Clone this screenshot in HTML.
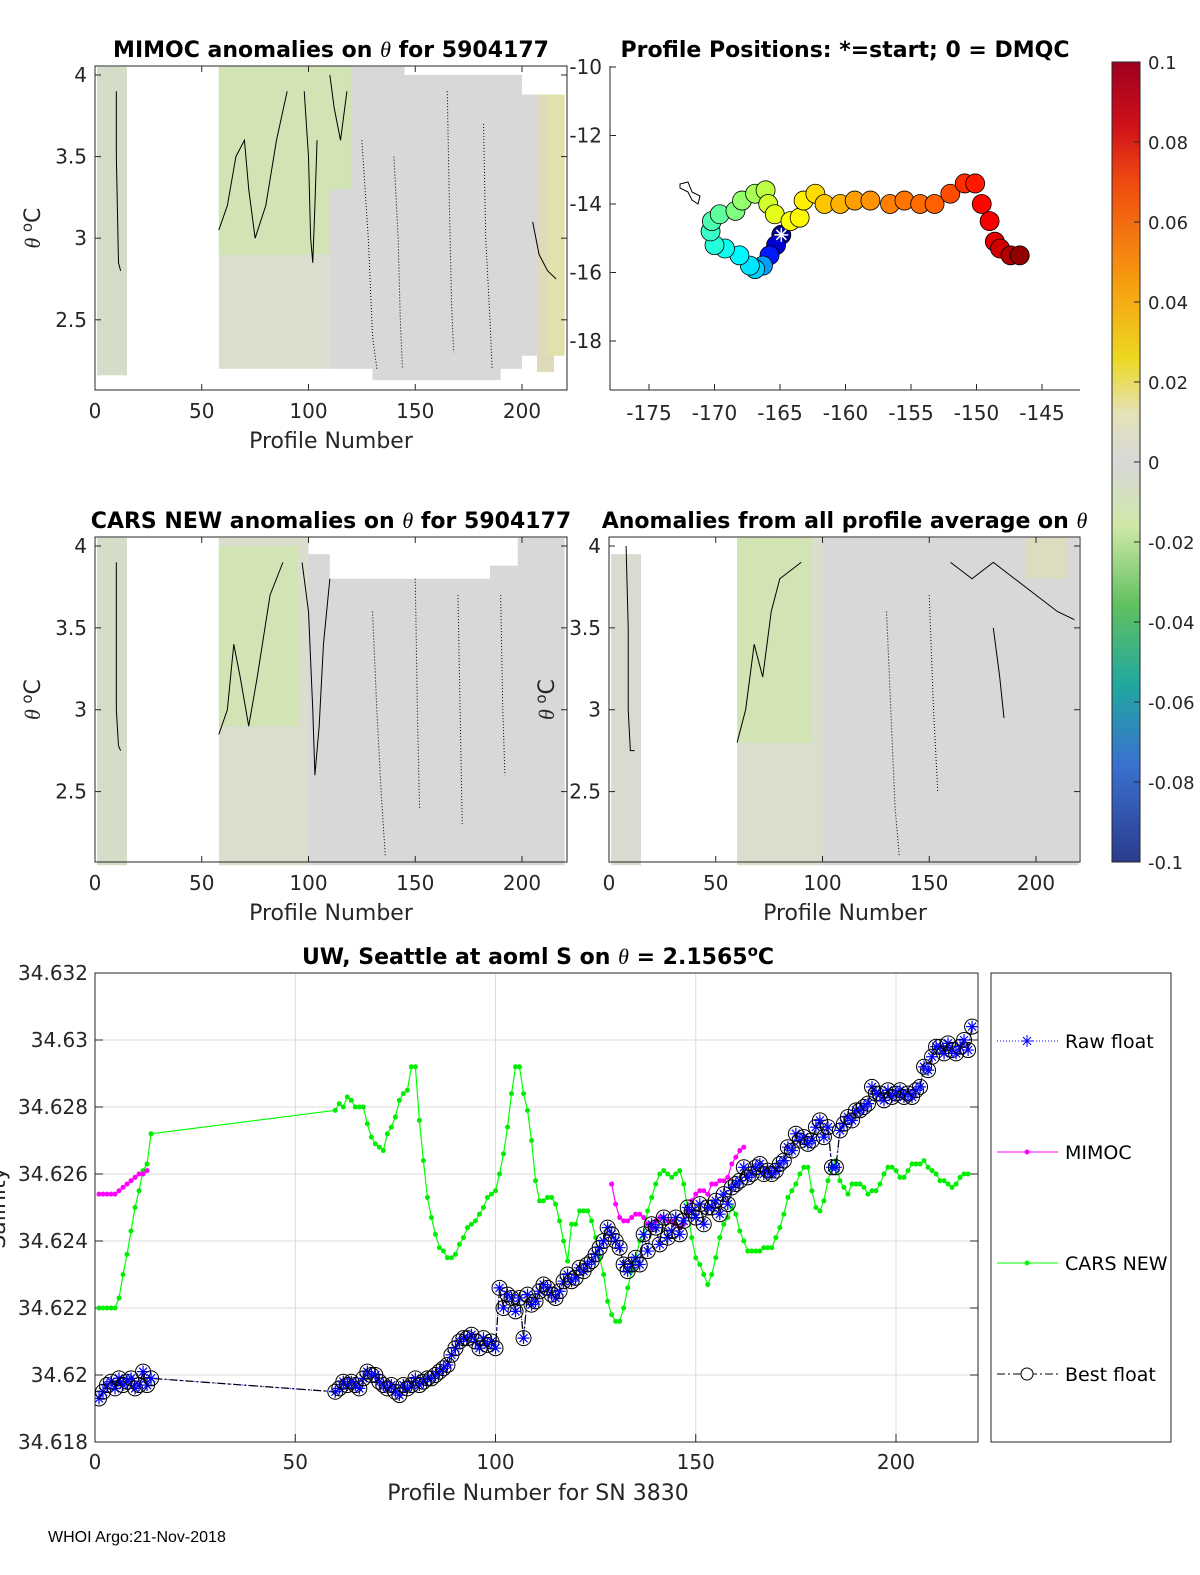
<!DOCTYPE html>
<html><head><meta charset="utf-8">
<style>
html,body{margin:0;padding:0;background:#fff;}
svg{display:block;font-family:"DejaVu Sans","Liberation Sans",sans-serif;}
</style></head>
<body>
<svg id="fig" width="1200" height="1575" viewBox="0 0 1200 1575" xmlns="http://www.w3.org/2000/svg">
<defs>
<linearGradient id="cbar" x1="0" y1="0" x2="0" y2="1">
<stop offset="0" stop-color="#9e0020"/><stop offset="0.08" stop-color="#d0101a"/><stop offset="0.15" stop-color="#f04a10"/>
<stop offset="0.28" stop-color="#f7a010"/><stop offset="0.37" stop-color="#ecd820"/><stop offset="0.44" stop-color="#e4e2b8"/>
<stop offset="0.5" stop-color="#d8d8d8"/><stop offset="0.58" stop-color="#cfe8a8"/><stop offset="0.68" stop-color="#60c060"/>
<stop offset="0.78" stop-color="#20a8a0"/><stop offset="0.88" stop-color="#3a70d0"/><stop offset="1" stop-color="#2a3c8c"/>
</linearGradient>
</defs>
<g id="root"></g>
<text x="48" y="1542" font-size="16" font-family="Liberation Sans, sans-serif">WHOI Argo:21-Nov-2018</text>
</svg>
<script>
// ---------- bottom chart data ----------
const bestProfiles = [1,2,3,4,5,6,7,8,9,10,11,12,13,14,60,61,62,63,64,65,66,67,68,69,70,71,72,73,74,75,76,77,78,79,80,81,82,83,84,85,86,87,88,89,90,91,92,93,94,95,96,97,98,99,100,101,102,103,104,105,106,107,108,109,110,111,112,113,114,115,116,117,118,119,120,121,122,123,124,125,126,127,128,129,130,131,132,133,134,135,136,137,138,139,140,141,142,143,144,145,146,147,148,149,150,151,152,153,154,155,156,157,158,159,160,161,162,163,164,165,166,167,168,169,170,171,172,173,174,175,176,177,178,179,180,181,182,183,184,185,186,187,188,189,190,191,192,193,194,195,196,197,198,199,200,201,202,203,204,205,206,207,208,209,210,211,212,213,214,215,216,217,218,219];
const bestSal = [34.6193,34.6195,34.6197,34.6198,34.6196,34.6199,34.6197,34.6198,34.6199,34.6196,34.6197,34.6201,34.6197,34.6199,
34.6195,34.6196,34.6198,34.6197,34.6198,34.6197,34.6196,34.6199,34.6201,34.6200,34.6200,34.6198,34.6197,34.6196,34.6197,34.6195,34.6194,34.6197,34.6196,34.6197,34.6199,34.6197,34.6198,34.6199,34.6199,34.6200,34.6201,34.6202,34.6203,34.6206,34.6208,34.6210,34.6211,34.6211,34.6212,34.6210,34.6208,34.6211,34.6209,34.6210,34.6208,
34.6226,34.6220,34.6224,34.6223,34.6219,34.6223,34.6211,34.6224,34.6221,34.6222,34.6225,34.6227,34.6226,34.6224,34.6223,34.6225,34.6228,34.6230,34.6228,34.6229,34.6232,34.6231,34.6233,34.6234,34.6236,34.6238,34.6240,34.6244,34.6242,34.6240,34.6238,34.6233,34.6231,34.6233,34.6235,34.6233,34.6242,34.6237,34.6245,34.6244,34.6239,34.6247,34.6241,34.6243,34.6247,34.6242,34.6246,34.6250,34.6249,34.6247,34.6251,34.6245,34.6250,34.6250,34.6252,34.6248,34.6254,34.6251,34.6256,34.6257,34.6258,34.6262,34.6259,34.6260,34.6262,34.6263,34.6260,34.6261,34.6260,34.6261,34.6263,34.6264,34.6268,34.6267,34.6272,34.6270,34.6271,34.6269,34.6270,34.6274,34.6276,34.6271,34.6274,34.6262,34.6262,34.6273,34.6275,34.6277,34.6276,34.6279,34.6279,34.6280,34.6281,34.6286,34.6284,34.6284,34.6282,34.6285,34.6283,34.6284,34.6285,34.6283,34.6284,34.6283,34.6285,34.6286,34.6292,34.6291,34.6295,34.6298,34.6298,34.6296,34.6299,34.6297,34.6296,34.6298,34.6300,34.6297,34.6304];
const mimocProfiles = [1,2,3,4,5,6,7,8,9,10,11,12,13,129,130,131,132,133,134,135,136,137,138,139,140,141,142,143,144,145,146,147,148,149,150,151,152,153,154,155,156,157,158,159,160,161,162];
const mimocSal = [34.6254,34.6254,34.6254,34.6254,34.6254,34.6255,34.6256,34.6257,34.6258,34.6259,34.6260,34.6260,34.6261,
34.6257,34.6251,34.6247,34.6246,34.6246,34.6247,34.6248,34.6248,34.6247,34.6245,34.6244,34.6246,34.6247,34.6247,34.6246,34.6246,34.6245,34.6244,34.6245,34.6249,34.6252,34.6254,34.6255,34.6255,34.6254,34.6257,34.6257,34.6258,34.6258,34.6259,34.6263,34.6265,34.6267,34.6268];
const carsProfiles = [1,2,3,4,5,6,7,8,9,10,11,12,13,14,60,61,62,63,64,65,66,67,68,69,70,71,72,73,74,75,76,77,78,79,80,81,82,83,84,85,86,87,88,89,90,91,92,93,94,95,96,97,98,99,100,101,102,103,104,105,106,107,108,109,110,111,112,113,114,115,116,117,118,119,120,121,122,123,124,125,126,127,128,129,130,131,132,133,134,135,136,137,138,139,140,141,142,143,144,145,146,147,148,149,150,151,152,153,154,155,156,157,158,159,160,161,162,163,164,165,166,167,168,169,170,171,172,173,174,175,176,177,178,179,180,181,182,183,184,185,186,187,188,189,190,191,192,193,194,195,196,197,198,199,200,201,202,203,204,205,206,207,208,209,210,211,212,213,214,215,216,217,218];
const carsSal = [34.6220,34.6220,34.6220,34.6220,34.6220,34.6223,34.6230,34.6236,34.6243,34.6250,34.6255,34.6261,34.6263,34.6272,
34.6279,34.6281,34.6280,34.6283,34.6282,34.6280,34.6280,34.6280,34.6275,34.6271,34.6269,34.6268,34.6267,34.6272,34.6274,34.6277,34.6282,34.6284,34.6285,34.6292,34.6292,34.6276,34.6264,34.6253,34.6247,34.6242,34.6238,34.6237,34.6235,34.6235,34.6236,34.6239,34.6241,34.6244,34.6245,34.6246,34.6248,34.6250,34.6253,34.6254,34.6255,34.6260,
34.6266,34.6274,34.6284,34.6292,34.6292,34.6284,34.6279,34.6270,34.6258,34.6252,34.6252,34.6253,34.6253,34.6251,34.6246,34.6240,34.6234,34.6245,34.6245,34.6249,34.6249,34.6249,34.6246,34.6241,34.6235,34.6230,34.6222,34.6218,34.6216,34.6216,34.6220,34.6226,34.6231,34.6235,34.6240,34.6242,34.6249,34.6253,34.6257,34.6260,34.6261,34.6260,34.6259,34.6260,34.6261,34.6257,34.6249,34.6241,34.6235,34.6233,34.6230,34.6227,34.6230,34.6235,34.6241,34.6245,34.6247,34.6250,34.6248,34.6243,34.6240,34.6237,34.6237,34.6237,34.6237,34.6238,34.6238,34.6238,34.6241,34.6244,34.6248,34.6253,34.6255,34.6257,34.6260,34.6262,34.6262,34.6255,34.6250,34.6249,34.6252,34.6258,34.6262,34.6264,34.6258,34.6256,34.6254,34.6257,34.6257,34.6257,34.6256,34.6254,34.6255,34.6255,34.6257,34.6260,34.6262,34.6262,34.6261,34.6259,34.6259,34.6261,34.6263,34.6263,34.6263,34.6264,34.6262,34.6261,34.6260,34.6258,34.6258,34.6257,34.6256,34.6257,34.6259,34.6260,34.6260];
const yTicks = [34.618,34.62,34.622,34.624,34.626,34.628,34.63,34.632];
const yTickLabels = ["34.618","34.62","34.622","34.624","34.626","34.628","34.63","34.632"];
const xTicks = [0,50,100,150,200];
const legendLabels = ["Raw float","MIMOC","CARS NEW","Best float"];
// ---------- map data ----------
const trackLon = [-164.9,-165.3,-165.8,-166.3,-166.9,-167.3,-168.1,-169.2,-170.0,-170.3,-170.2,-169.6,-168.4,-167.9,-166.9,-166.1,-165.9,-165.4,-164.2,-163.5,-163.2,-162.3,-161.6,-160.4,-159.3,-158.1,-156.6,-155.5,-154.3,-153.2,-152.0,-150.9,-150.1,-149.6,-149.0,-148.6,-148.2,-147.4,-146.7];
const trackLat = [-14.9,-15.2,-15.5,-15.8,-15.9,-15.8,-15.5,-15.3,-15.2,-14.8,-14.5,-14.3,-14.2,-13.9,-13.7,-13.6,-14.0,-14.3,-14.5,-14.4,-13.9,-13.7,-14.0,-14.0,-13.9,-13.9,-14.0,-13.9,-14.0,-14.0,-13.7,-13.4,-13.4,-14.0,-14.5,-15.1,-15.3,-15.5,-15.5];
const trackOrder = [0.02,0.08,0.15,0.28,0.33,0.35,0.37,0.39,0.41,0.43,0.45,0.47,0.5,0.52,0.54,0.56,0.58,0.6,0.62,0.63,0.64,0.66,0.68,0.7,0.72,0.73,0.75,0.76,0.77,0.78,0.8,0.83,0.85,0.87,0.88,0.9,0.92,0.95,0.98];
const lonTicks = [-175,-170,-165,-160,-155,-150,-145];
const latTicks = [-10,-12,-14,-16,-18];
const cbarTicks = [0.1,0.08,0.06,0.04,0.02,0,-0.02,-0.04,-0.06,-0.08,-0.1];
const cbarLabels = ["0.1","0.08","0.06","0.04","0.02","0","-0.02","-0.04","-0.06","-0.08","-0.1"];
const thetaTicks = [2.5,3,3.5,4];
const profTicks = [0,50,100,150,200];

const NS="http://www.w3.org/2000/svg";
const root=document.getElementById('root');
function mk(tag,attrs,parent,text){const e=document.createElementNS(NS,tag);for(const k in attrs)e.setAttribute(k,attrs[k]);if(text!==undefined)e.textContent=text;(parent||root).appendChild(e);return e;}

// ---------- bottom chart ----------
const B={x0:95,x1:978,y0:973,y1:1442};
const bx=p=>B.x0+p*(896-95)/200;
const by=v=>B.y1-(v-34.618)/0.014*(B.y1-B.y0);
const gB=mk('g',{});


xTicks.forEach(t=>{const l=mk('line',{x1:bx(t),x2:bx(t),y1:B.y0,y2:B.y1,stroke:'#dcdcdc','stroke-width':1},gB);});
yTicks.forEach(t=>{const l=mk('line',{x1:B.x0,x2:B.x1,y1:by(t),y2:by(t),stroke:'#dcdcdc','stroke-width':1},gB);});
const frame=mk('rect',{x:B.x0,y:B.y0,width:B.x1-B.x0,height:B.y1-B.y0,fill:'none',stroke:'#262626','stroke-width':1},gB);

yTicks.forEach((t,i)=>{mk('line',{x1:B.x0,x2:B.x0+8,y1:by(t),y2:by(t),stroke:'#262626'},gB);mk('line',{x1:B.x1,x2:B.x1-8,y1:by(t),y2:by(t),stroke:'#262626'},gB);
 const tx=mk('text',{x:B.x0-7,y:by(t)+7,'text-anchor':'end','font-size':20,fill:'#262626'},gB,yTickLabels[i]);});
xTicks.forEach(t=>{mk('line',{x1:bx(t),x2:bx(t),y1:B.y1,y2:B.y1-8,stroke:'#262626'},gB);
 const tx=mk('text',{x:bx(t),y:B.y1+27,'text-anchor':'middle','font-size':20,fill:'#262626'},gB,String(t));});
let t1=mk('text',{x:538,y:1500,'text-anchor':'middle','font-size':22,fill:'#262626'},gB,'Profile Number for SN 3830');
let t2=mk('text',{x:0,y:0,transform:'translate(5,1208) rotate(-90)','text-anchor':'middle','font-size':22,fill:'#262626'},gB,'Salinity');
let t3=mk('text',{x:538,y:964,'text-anchor':'middle','font-size':22,'font-weight':'bold',fill:'#000'},gB,'UW, Seattle at aoml S on ');
mk('tspan',{'font-style':'italic','font-family':'Liberation Serif, serif','font-weight':'normal'},t3,'θ');
mk('tspan',{},t3,' = 2.1565');mk('tspan',{dy:-8,'font-size':15},t3,'o');mk('tspan',{dy:8},t3,'C');

const clipB=mk('clipPath',{id:'clipB'},gB);mk('rect',{x:B.x0,y:B.y0,width:B.x1-B.x0,height:B.y1-B.y0},clipB);
const plotB=mk('g',{'clip-path':'url(#clipB)'},gB);
function series(ps,vs,color,name,dash){
 const pts=ps.map((p,i)=>bx(p)+','+by(vs[i])).join(' ');
 const l=mk('polyline',{points:pts,fill:'none',stroke:color,'stroke-width':1.2,'stroke-dasharray':dash||'none'},plotB);
 
}
series(carsProfiles,carsSal,'#00ff00','cars-new');
carsProfiles.forEach((p,i)=>{const c=mk('circle',{cx:bx(p),cy:by(carsSal[i]),r:2.5,fill:'#00ee00'},plotB);});
series(mimocProfiles.slice(0,13),mimocSal.slice(0,13),'#ff00ff','mimoc-start');
series(mimocProfiles.slice(13),mimocSal.slice(13),'#ff00ff','mimoc');
mimocProfiles.forEach((p,i)=>{const c=mk('circle',{cx:bx(p),cy:by(mimocSal[i]),r:2.5,fill:'#ff00ff'},plotB);});
series(bestProfiles,bestSal,'#0000ff','raw-float','1 2');
series(bestProfiles,bestSal,'#000','best-float','8 3 2 3');
bestProfiles.forEach((p,i)=>{const x=bx(p),y=by(bestSal[i]);
 const g=mk('g',{},plotB);
 mk('circle',{cx:x,cy:y,r:7.5,fill:'none',stroke:'#000','stroke-width':1},g);
 mk('path',{d:`M${x-6},${y}H${x+6}M${x},${y-6}V${y+6}M${x-4},${y-4}L${x+4},${y+4}M${x-4},${y+4}L${x+4},${y-4}`,stroke:'#0000ff','stroke-width':1.2},g);});
// legend
const lg=mk('g',{});
mk('rect',{x:991,y:973,width:180,height:469,fill:'#fff',stroke:'#262626'},lg);
const ly=[1041,1152,1263,1374],lc=['#0000ff','#ff00ff','#00ff00','#000'],ld=['1 2','none','none','8 3 2 3'];
legendLabels.forEach((s,i)=>{const e=mk('g',{},lg);
 mk('line',{x1:997,x2:1058,y1:ly[i],y2:ly[i],stroke:lc[i],'stroke-dasharray':ld[i]},e);
 if(i==0)mk('path',{d:`M1021,${ly[i]}h12M1027,${ly[i]-6}v12M1023,${ly[i]-4}l8,8M1023,${ly[i]+4}l8,-8`,stroke:'#0000ff'},e);
 if(i==1||i==2)mk('circle',{cx:1027,cy:ly[i],r:2.5,fill:lc[i]},e);
 if(i==3)mk('circle',{cx:1027,cy:ly[i],r:6,fill:'#fff',stroke:'#000'},e);
 mk('text',{x:1065,y:ly[i]+7,'font-size':19,fill:'#000'},e,s);});

// ---------- heatmap panels ----------
function panel(name,ax,ay,aw,ah,xs,title,hasYLabel,rects,lines){
 const g=mk('g',{});
 const px=p=>ax+ (p-0)*xs; const py=v=>ay+ah - (v-2.07)/(4.055-2.07)*ah;
 rects.forEach(r=>{const e=mk('rect',{x:px(r[0]),y:py(r[3]),width:px(r[1])-px(r[0]),height:py(r[2])-py(r[3]),fill:r[4]},g);});
 lines.forEach(l=>{const pts=[];for(let i=0;i<l[0].length;i+=2)pts.push(px(l[0][i])+','+py(l[0][i+1]));
  const e=mk('polyline',{points:pts.join(' '),fill:'none',stroke:'#000','stroke-width':1,'stroke-dasharray':l[1]?'1 2':'none'},g);});
 mk('rect',{x:ax,y:ay,width:aw,height:ah,fill:'none',stroke:'#262626'},g);
 thetaTicks.forEach(t=>{mk('line',{x1:ax,x2:ax+6,y1:py(t),y2:py(t),stroke:'#262626'},g);mk('line',{x1:ax+aw,x2:ax+aw-6,y1:py(t),y2:py(t),stroke:'#262626'},g);
  const e=mk('text',{x:ax-8,y:py(t)+7,'text-anchor':'end','font-size':20,fill:'#262626'},g,String(t));});
 profTicks.forEach(t=>{mk('line',{x1:px(t),x2:px(t),y1:ay+ah,y2:ay+ah-6,stroke:'#262626'},g);mk('line',{x1:px(t),x2:px(t),y1:ay,y2:ay+6,stroke:'#262626'},g);
  const e=mk('text',{x:px(t),y:ay+ah+28,'text-anchor':'middle','font-size':20,fill:'#262626'},g,String(t));});
 const xt=mk('text',{x:ax+236,y:ay+ah+58,'text-anchor':'middle','font-size':22,fill:'#262626'},g,'Profile Number');
 if(hasYLabel){const yt=mk('text',{transform:`translate(${ax-55},${ay+ah/2}) rotate(-90)`,'text-anchor':'middle','font-size':22,fill:'#262626'},g);
  
  mk('tspan',{'font-style':'italic','font-family':'Liberation Serif, serif'},yt,'θ ');mk('tspan',{dy:-8,'font-size':15},yt,'o');mk('tspan',{dy:8},yt,'C');}
 const tt=mk('text',{x:ax+aw/2,y:ay-9,'text-anchor':'middle','font-size':22,'font-weight':'bold',fill:'#000'},g);
 
 title.forEach(s=>{if(s==='θ')mk('tspan',{'font-style':'italic','font-family':'Liberation Serif, serif','font-weight':'normal'},tt,'θ');else mk('tspan',{},tt,s);});
 return g;
}
const G='#d3e4b4',GR='#d6d8d2',GY='#d8d8d8',Y='#e2e0ac';
panel('mimoc-panel',95,66,472,324,2.135,['MIMOC anomalies on ','θ','  for 5904177'],true,
 [[1,15,2.16,4.05,'#d5dcc8'],[58,110,2.2,4.05,'#d9dfcc'],[58,110,2.9,4.05,G],[110,145,2.2,4.05,GY],[100,120,3.3,4.05,G],[130,190,2.13,3.95,GY],[145,200,2.2,4.0,GY],[200,207,2.28,3.88,GY],[207,215,2.18,3.88,'#dedcb8'],[212,220,2.28,3.88,Y]],
 [[[10,3.9,10,3.5,11,2.85,12,2.8],0],[[58,3.05,62,3.2,66,3.5,70,3.6,72,3.3,75,3.0,80,3.2,85,3.6,90,3.9],0],[[98,3.9,100,3.5,101,3.0,102,2.85,103,3.2,104,3.6],0],[[110,4.0,112,3.8,115,3.6,118,3.9],0],[[140,3.5,142,3.0,143,2.5,144,2.2],1],[[165,3.9,166,3.2,167,2.6,168,2.3],1],[[125,3.6,128,3.0,130,2.4,132,2.2],1],[[182,3.7,183,3.0,185,2.5,186,2.2],1],[[205,3.1,208,2.9,212,2.8,216,2.75],0]]);
panel('cars-panel',95,537,472,325,2.135,['CARS NEW anomalies on ','θ',' for 5904177'],true,
 [[1,15,2.05,4.05,'#d5dcc8'],[58,100,2.05,4.05,'#d9dfcc'],[58,95,2.9,4.0,G],[100,110,2.05,3.95,GY],[110,185,2.05,3.8,GY],[185,198,2.05,3.88,GY],[198,220,2.05,4.05,GY]],
 [[[10,3.9,10,3.5,10,3.0,11,2.78,12,2.75],0],[[58,2.85,62,3.0,65,3.4,68,3.2,72,2.9,76,3.2,82,3.7,88,3.9],0],[[97,3.9,100,3.6,102,3.0,103,2.6,105,2.9,107,3.4,110,3.8],0],[[130,3.6,132,3.0,134,2.5,136,2.1],1],[[150,3.8,151,3.0,152,2.4],1],[[170,3.7,171,3.0,172,2.3],1],[[190,3.7,191,3.0,192,2.6],1]]);
panel('avg-anomaly-panel',609,537,471,325,2.135,['Anomalies from all profile average on ','θ'],true,
 [[1,15,2.05,3.95,'#d8dcd0'],[60,100,2.05,4.05,'#d9dfcc'],[60,95,2.8,4.05,G],[100,220,2.05,4.05,GY],[195,215,3.8,4.05,'#dcdcc0']],
 [[[8,4.0,9,3.5,9,3.0,10,2.75,12,2.75],0],[[60,2.8,64,3.0,68,3.4,72,3.2,76,3.6,80,3.8,90,3.9],0],[[130,3.6,132,3.0,134,2.4,136,2.1],1],[[150,3.7,152,3.0,154,2.5],1],[[160,3.9,170,3.8,180,3.9,190,3.8,200,3.7,210,3.6,218,3.55],0],[[180,3.5,183,3.2,185,2.95],0]]);

// ---------- map ----------
const M={x0:610,y0:66,x1:1080,y1:390};
const mx=l=>649+(l+175)*13.1, my=l=>67+(-10-l)*34.25;
const gm=mk('g',{});
mk('line',{x1:M.x0,x2:M.x0,y1:M.y0,y2:M.y1,stroke:'#262626'},gm);mk('line',{x1:M.x0,x2:M.x1,y1:M.y1,y2:M.y1,stroke:'#262626'},gm);
lonTicks.forEach(t=>{mk('line',{x1:mx(t),x2:mx(t),y1:M.y1,y2:M.y1-6,stroke:'#262626'},gm);const e=mk('text',{x:mx(t),y:M.y1+30,'text-anchor':'middle','font-size':20,fill:'#262626'},gm,String(t));});
latTicks.forEach(t=>{mk('line',{x1:M.x0,x2:M.x0+6,y1:my(t),y2:my(t),stroke:'#262626'},gm);const e=mk('text',{x:M.x0-8,y:my(t)+7,'text-anchor':'end','font-size':20,fill:'#262626'},gm,String(t));});
let mt=mk('text',{x:845,y:57,'text-anchor':'middle','font-size':22,'font-weight':'bold'},gm,'Profile Positions: *=start; 0 = DMQC');
mk('path',{d:'M680,184 l8,-2 4,10 8,4 -2,8 -6,-4 -4,-8 -8,-4z',fill:'none',stroke:'#000'},gm);
function jet(t){const r=Math.min(1,Math.max(0,1.5-Math.abs(4*t-3))),g=Math.min(1,Math.max(0,1.5-Math.abs(4*t-2))),b=Math.min(1,Math.max(0,1.5-Math.abs(4*t-1)));return `rgb(${r*255|0},${g*255|0},${b*255|0})`;}
trackLon.forEach((l,i)=>{const c=mk('circle',{cx:mx(l),cy:my(trackLat[i]),r:9.5,fill:jet(trackOrder[i]),stroke:'#000','stroke-width':0.8},gm);});
mk('path',{d:`M${mx(trackLon[0])-7},${my(trackLat[0])}h14M${mx(trackLon[0])},${my(trackLat[0])-7}v14M${mx(trackLon[0])-5},${my(trackLat[0])-5}l10,10M${mx(trackLon[0])-5},${my(trackLat[0])+5}l10,-10`,stroke:'#fff','stroke-width':1.5},gm);

// ---------- colorbar ----------
const gc=mk('g',{});
mk('rect',{x:1112,y:62,width:28,height:800,fill:'url(#cbar)',stroke:'#262626'},gc);
const cy=v=>62+(0.1-v)/0.2*800;
cbarTicks.forEach((t,i)=>{mk('line',{x1:1134,x2:1140,y1:cy(t),y2:cy(t),stroke:'#262626'},gc);const e=mk('text',{x:1148,y:cy(t)+7,'font-size':18,fill:'#262626'},gc,cbarLabels[i]);});
</script>
</body></html>
